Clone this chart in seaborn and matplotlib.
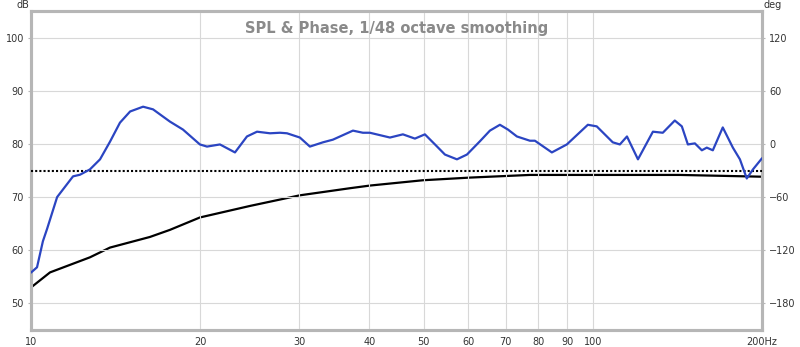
import numpy as np
import pandas as pd
import matplotlib
matplotlib.use("Agg")
import matplotlib.pyplot as plt
import seaborn as sns

# ---- data ----
spl_freq = [10.0, 10.25, 10.5, 10.68, 11.13, 11.88, 12.22, 12.73, 13.27, 13.82,
            14.4, 15.01, 15.83, 16.49, 17.67, 18.64, 19.98, 20.57, 21.69, 23.07,
            24.23, 25.25, 26.63, 27.75, 28.55, 30.1, 31.36, 33.08, 34.46, 37.41,
            38.97, 40.1, 43.54, 45.91, 48.23, 50.24, 52.36, 54.54, 57.29, 59.69,
            62.95, 65.58, 68.32, 70.61, 73.26, 77.26, 78.86, 84.53, 89.88, 97.97,
            101.6, 108.5, 111.7, 115.0, 120.3, 127.9, 133.2, 139.9, 144.0, 147.6,
            151.9, 156.3, 159.5, 163.5, 170.3, 177.5, 182.7, 187.9, 192.7, 200.0]
spl_db = [55.8, 56.8, 61.7, 64.0, 70.0, 73.9, 74.2, 75.2, 77.1, 80.4,
          84.0, 86.1, 87.0, 86.5, 84.2, 82.7, 79.9, 79.5, 79.9, 78.4,
          81.4, 82.3, 82.0, 82.1, 82.0, 81.2, 79.5, 80.3, 80.8, 82.5,
          82.1, 82.1, 81.2, 81.8, 81.0, 81.8, 79.9, 78.0, 77.1, 78.0,
          80.5, 82.5, 83.6, 82.7, 81.4, 80.6, 80.6, 78.4, 79.9, 83.6,
          83.3, 80.3, 79.9, 81.4, 77.1, 82.3, 82.1, 84.4, 83.3, 79.9,
          80.1, 78.8, 79.3, 78.8, 83.1, 79.3, 77.1, 73.5, 75.2, 77.3]

phase_freq = [10.0, 10.81, 12.73, 13.82, 16.28, 17.67, 19.98, 24.53, 30.1, 36.95,
              40.1, 49.83, 60.42, 77.26, 100.0, 142.8, 200.0]
phase_deg = [-162, -145, -128, -117, -105, -97, -83, -70, -58, -50,
             -47, -41, -38, -35, -35, -35, -37]

target_db = 75

x_ticks = [10, 20, 30, 40, 50, 60, 70, 80, 90, 100, 200]
x_labels = ["10", "20", "30", "40", "50", "60", "70", "80", "90", "100", "200Hz"]
db_ticks = [50, 60, 70, 80, 90, 100]
deg_ticks = [-180, -120, -60, 0, 60, 120]
title = "SPL & Phase, 1/48 octave smoothing"

# ---- plotting ----
sns.set_style("white")
plt.rcParams['font.family'] = ['DejaVu Sans']

fig = plt.figure(figsize=(8, 3.47), dpi=100)
ax = fig.add_axes([31/800, 1-330/347, (762-31)/800, (330-11)/347])
ax2 = ax.twinx()

spl_df = pd.DataFrame({"freq": spl_freq, "db": spl_db})
ph_df = pd.DataFrame({"freq": phase_freq, "deg": phase_deg})

ax.set_xscale("log")
ax.set_xlim(10, 200)
ax.set_ylim(45, 105)
ax2.set_ylim((45-80)*6, (105-80)*6)

ax.grid(True, which="major", color="#d8d8d8", linewidth=0.8)
ax.set_xticks(x_ticks)
ax.set_xticklabels(x_labels)
ax.xaxis.set_minor_locator(matplotlib.ticker.NullLocator())
ax.set_yticks(db_ticks)
ax2.set_yticks(deg_ticks)

ax.axhline(target_db, color="black", linestyle=(0, (1, 1)), linewidth=1.5, zorder=3)

sns.lineplot(data=ph_df, x="freq", y="deg", ax=ax2, color="black", linewidth=1.6, zorder=4)
sns.lineplot(data=spl_df, x="freq", y="db", ax=ax, color="#2b45c2",
             linewidth=1.6, zorder=5)

ax.set_zorder(ax2.get_zorder() + 1)
ax.patch.set_visible(False)

for a in (ax, ax2):
    a.set_xlabel("")
    a.set_ylabel("")
    for s in a.spines.values():
        s.set_color("#b6b6b6")
        s.set_linewidth(2.2)

ax.tick_params(axis="both", labelsize=7, colors="#333333", length=2, pad=3,
               color="#b6b6b6")
ax2.tick_params(axis="y", labelsize=7, colors="#333333", length=2, pad=3,
                color="#b6b6b6")

ax.text(0.5, 0.97, title, transform=ax.transAxes, ha="center", va="top",
        fontsize=10.5, fontweight="bold", color="#8a8a8a")
fig.text(23/800, 1-5/347, "dB", ha="center", va="center", fontsize=7, color="#333333")
fig.text(773/800, 1-5/347, "deg", ha="center", va="center", fontsize=7, color="#333333")

fig.savefig("out.png", dpi=100)
